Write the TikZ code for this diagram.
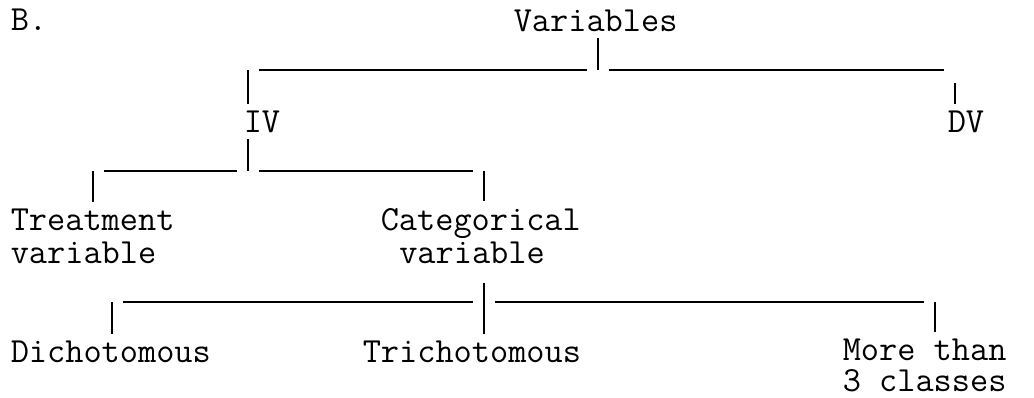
\documentclass[tikz,border=0pt]{standalone}
\usepackage{fontspec}
\begin{document}
\begin{tikzpicture}[x=0.02cm, y=-0.02cm, line width=0.9pt,
        every node/.style={inner sep=3.4pt, anchor=base west, align=left,
            font=\ttfamily\fontsize{20.1}{18.7}\selectfont},
        bar/.style={shorten <=6pt, shorten >=6pt}]
        \useasboundingbox (0,0) rectangle (1034,397);
        \node[] (lbl) at (4,30) {B.};
        \node[] (vars) at (507,31) {Variables};
        \node[] (iv) at (237,132) {IV};
        \node[] (dv) at (941,132) {DV};
        \node[] (treat) at (4,263) {Treatment\\variable};
        \node[] (cat) at (374,263) {Categorical\\\hspace*{.525em}variable};
        \node[] (dich) at (4,362) {Dichotomous};
        \node[] (trich) at (356,362) {Trichotomous};
        \node[] (more) at (836,391) {More than\\[-1.1pt]3 classes};
        \coordinate (vj) at (598,70);
        \coordinate (ivj) at (248,70);
        \coordinate (dvj) at (955,70);
        \coordinate (ivm) at (248,171);
        \coordinate (trj) at (93,171);
        \coordinate (caj) at (484,171);
        \coordinate (cbj) at (484,302);
        \coordinate (dij) at (112,302);
        \coordinate (mtj) at (935,302);
        \draw (vars.south -| vj) -- (vj);
        \draw[bar] (ivj) -- (vj);
        \draw[bar] (vj) -- (dvj);
        \draw (ivj) -- (ivj |- iv.north);
        \draw[shorten <=7.4pt] (dvj) -- (dvj |- dv.north);
        \draw (iv.south -| ivm) -- (ivm);
        \draw[bar] (trj) -- (ivm);
        \draw[bar] (ivm) -- (caj);
        \draw (trj) -- (trj |- treat.north);
        \draw (caj) -- (caj |- cat.north);
        \draw[shorten <=7.4pt] (cat.south -| cbj) -- (cbj) -- (cbj |- trich.north);
        \draw[bar] (dij) -- (cbj);
        \draw[bar] (cbj) -- (mtj);
        \draw (dij) -- (dij |- dich.north);
        \draw (mtj) -- (mtj |- more.north);
\end{tikzpicture}
\end{document}
